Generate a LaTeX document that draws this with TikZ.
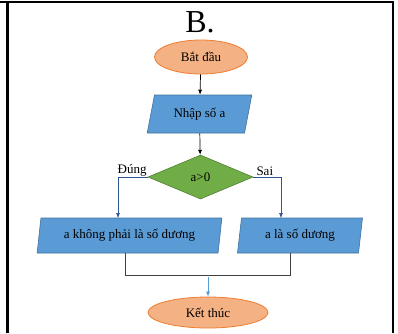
\documentclass[tikz,border=0pt]{standalone}
\usepackage{fontspec}
\setmainfont{Liberation Serif}
\usetikzlibrary{shapes.geometric,arrows.meta}
\definecolor{ovfill}{RGB}{244,177,131}
\definecolor{ovdraw}{RGB}{237,125,49}
\definecolor{pfill}{RGB}{91,155,213}
\definecolor{pdraw}{RGB}{65,113,156}
\definecolor{dfill}{RGB}{112,173,71}
\definecolor{ddraw}{RGB}{80,126,50}
\definecolor{branch}{RGB}{47,85,151}
\definecolor{mergec}{RGB}{64,64,64}
\definecolor{lblue}{RGB}{91,155,213}
\tikzset{
  txt/.style={font=\fontsize{13}{15}\selectfont},
  term/.style={txt,ellipse,draw=ovdraw,fill=ovfill,line width=0.8pt,inner sep=0pt},
  io/.style={txt,trapezium,trapezium stretches=true,draw=pdraw,fill=pfill,line width=0.6pt,inner sep=0pt},
  dec/.style={txt,diamond,draw=ddraw,fill=dfill,line width=0.6pt,inner sep=0pt},
  arr/.style={-{Latex[length=5pt,width=4pt]},line width=0.7pt},
}
\begin{document}
\begin{tikzpicture}[x=1pt,y=-1pt]
\useasboundingbox (0,0) rectangle (398,333);
\draw[line width=2.5pt] (0,2) -- (393,2) -- (393,333);
\draw[line width=2.5pt] (7.5,2) -- (7.5,333);
\node[font=\fontsize{32}{36}\selectfont] (title) at (200,22) {B.};
\node[term,minimum width=93pt,minimum height=34pt] (start) at (201,57) {Bắt đầu};
\node[io,trapezium left angle=71,trapezium right angle=109,minimum width=105pt,minimum height=38pt] (input) at (199.5,114) {Nhập số a};
\node[dec,minimum width=105pt,minimum height=44pt] (cond) at (200.5,177) {a>0};
\node[io,trapezium left angle=77,trapezium right angle=103,minimum width=185pt,minimum height=35pt] (neg) at (129.5,235.5) {a không phải là số dương};
\node[io,trapezium left angle=79,trapezium right angle=101,minimum width=126pt,minimum height=35pt] (pos) at (300,235.5) {a là số dương};
\node[term,minimum width=120pt,minimum height=31pt] (stop) at (208,312.5) {Kết thúc};
\node[txt,anchor=south east,inner sep=1pt] (yes) at (cond.west) {Đúng};
\node[txt,anchor=south west,inner sep=1pt] (no) at ([xshift=2pt]cond.east) {Sai};
\coordinate (nl) at (125,275);
\coordinate (nr) at (290,275);
\coordinate (m) at (208,277);
\draw[arr] (start) -- (input);
\draw[arr] (input) -- (cond);
\draw[arr,branch,line width=0.6pt] (cond.west) -| (118,218);
\draw[arr,branch,line width=0.6pt] (cond.east) -| (281,218);
\draw[mergec,line width=0.8pt] (neg.south -| nl) -- (nl) -- (nr) -- (pos.south -| nr);
\draw[arr,lblue,line width=0.6pt] (m) -- (stop);
\end{tikzpicture}
\end{document}
